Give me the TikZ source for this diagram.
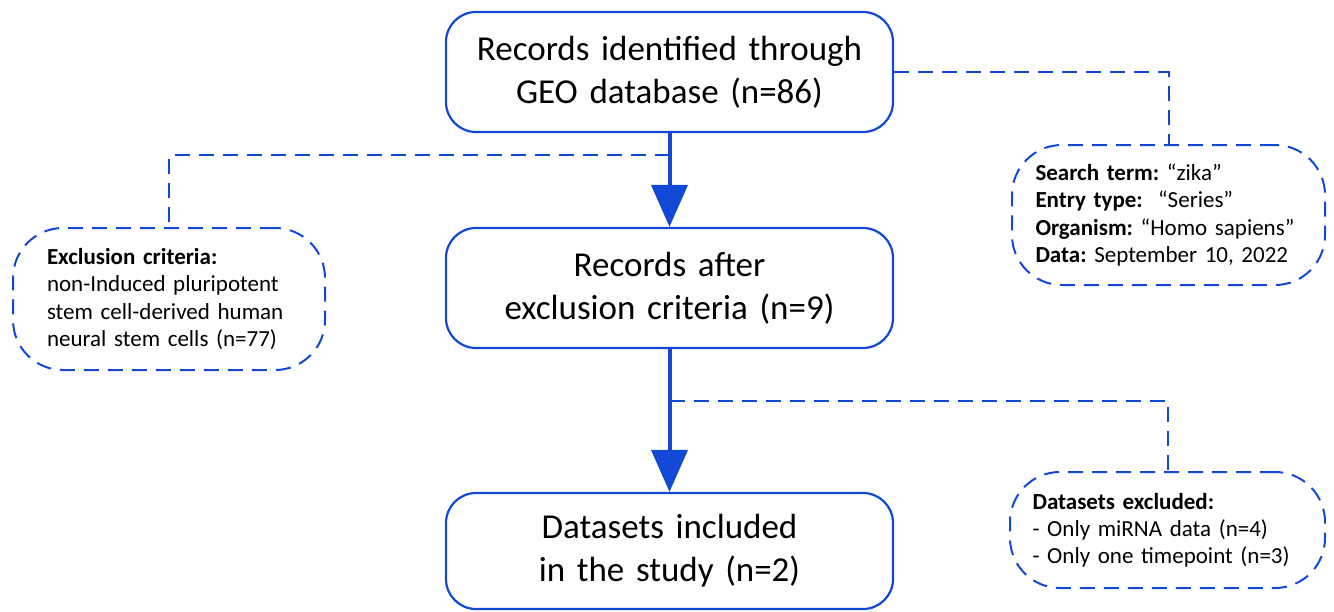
\documentclass[tikz,border=0pt]{standalone}
\usepackage{fontspec}
\setmainfont{Carlito}
\frenchspacing
\usetikzlibrary{arrows.meta,calc}
\definecolor{flowblue}{RGB}{18,72,214}
\begin{document}
\begin{tikzpicture}[x=0.5pt,y=-0.5pt,
  mainbox/.style={draw=flowblue,line width=1.1pt,rounded corners=15pt,
    minimum width=223.5pt,text width=200pt,align=center,inner xsep=0pt,
    font=\fontsize{17.5}{21.5}\selectfont},
  sidebox/.style={draw=flowblue,line width=1pt,dash pattern=on 7.5pt off 4.5pt,
    rounded corners=25pt,align=left,inner ysep=0pt,
    font=\fontsize{11.5}{13.6}\selectfont},
  flowarrow/.style={draw=flowblue,line width=2pt,-{Triangle[width=18pt,length=21pt]}},
  dashline/.style={draw=flowblue,line width=1pt,dash pattern=on 7.5pt off 4.5pt}]
\useasboundingbox (0,0) rectangle (1334,611);

\node[mainbox,minimum height=60pt] (b1) at (669.5,72) {Records identified through\\GEO database (n=86)};
\node[mainbox,minimum height=60pt] (b2) at (669.5,288) {Records after\\exclusion criteria (n=9)};
\node[mainbox,minimum height=58pt] (b3) at (669.5,551) {Datasets included\\in the study (n=2)};

\node[sidebox,text width=122pt,inner xsep=17pt,minimum height=71pt] (lx) at (169,299)
  {\textbf{Exclusion criteria:}\\non-Induced pluripotent\\stem cell-derived human\\neural stem cells (n=77)};
\node[sidebox,text width=133pt,inner xsep=11.75pt,minimum height=70pt] (rt) at (1168.5,215)
  {\textbf{Search term:} “zika”\\\textbf{Entry type:}\ \ “Series”\\\textbf{Organism:} “Homo sapiens”\\\textbf{Data:} September 10, 2022};
\node[sidebox,text width=135pt,inner xsep=11.25pt,minimum height=58pt] (rb) at (1167.5,530)
  {\textbf{Datasets excluded:}\\- Only miRNA data (n=4)\\- Only one timepoint (n=3)};

\coordinate (j1) at (669.5,155);
\coordinate (j2) at (669.5,401);

\draw[dashline] (j1) -| (lx.north);
\draw[dashline] (b1.east) -| (rt.north);
\draw[dashline] (j2) -| (rb.north);

\draw[flowarrow] (b1.south) -- (b2.north);
\draw[flowarrow] (b2.south) -- (b3.north);
\end{tikzpicture}
\end{document}
